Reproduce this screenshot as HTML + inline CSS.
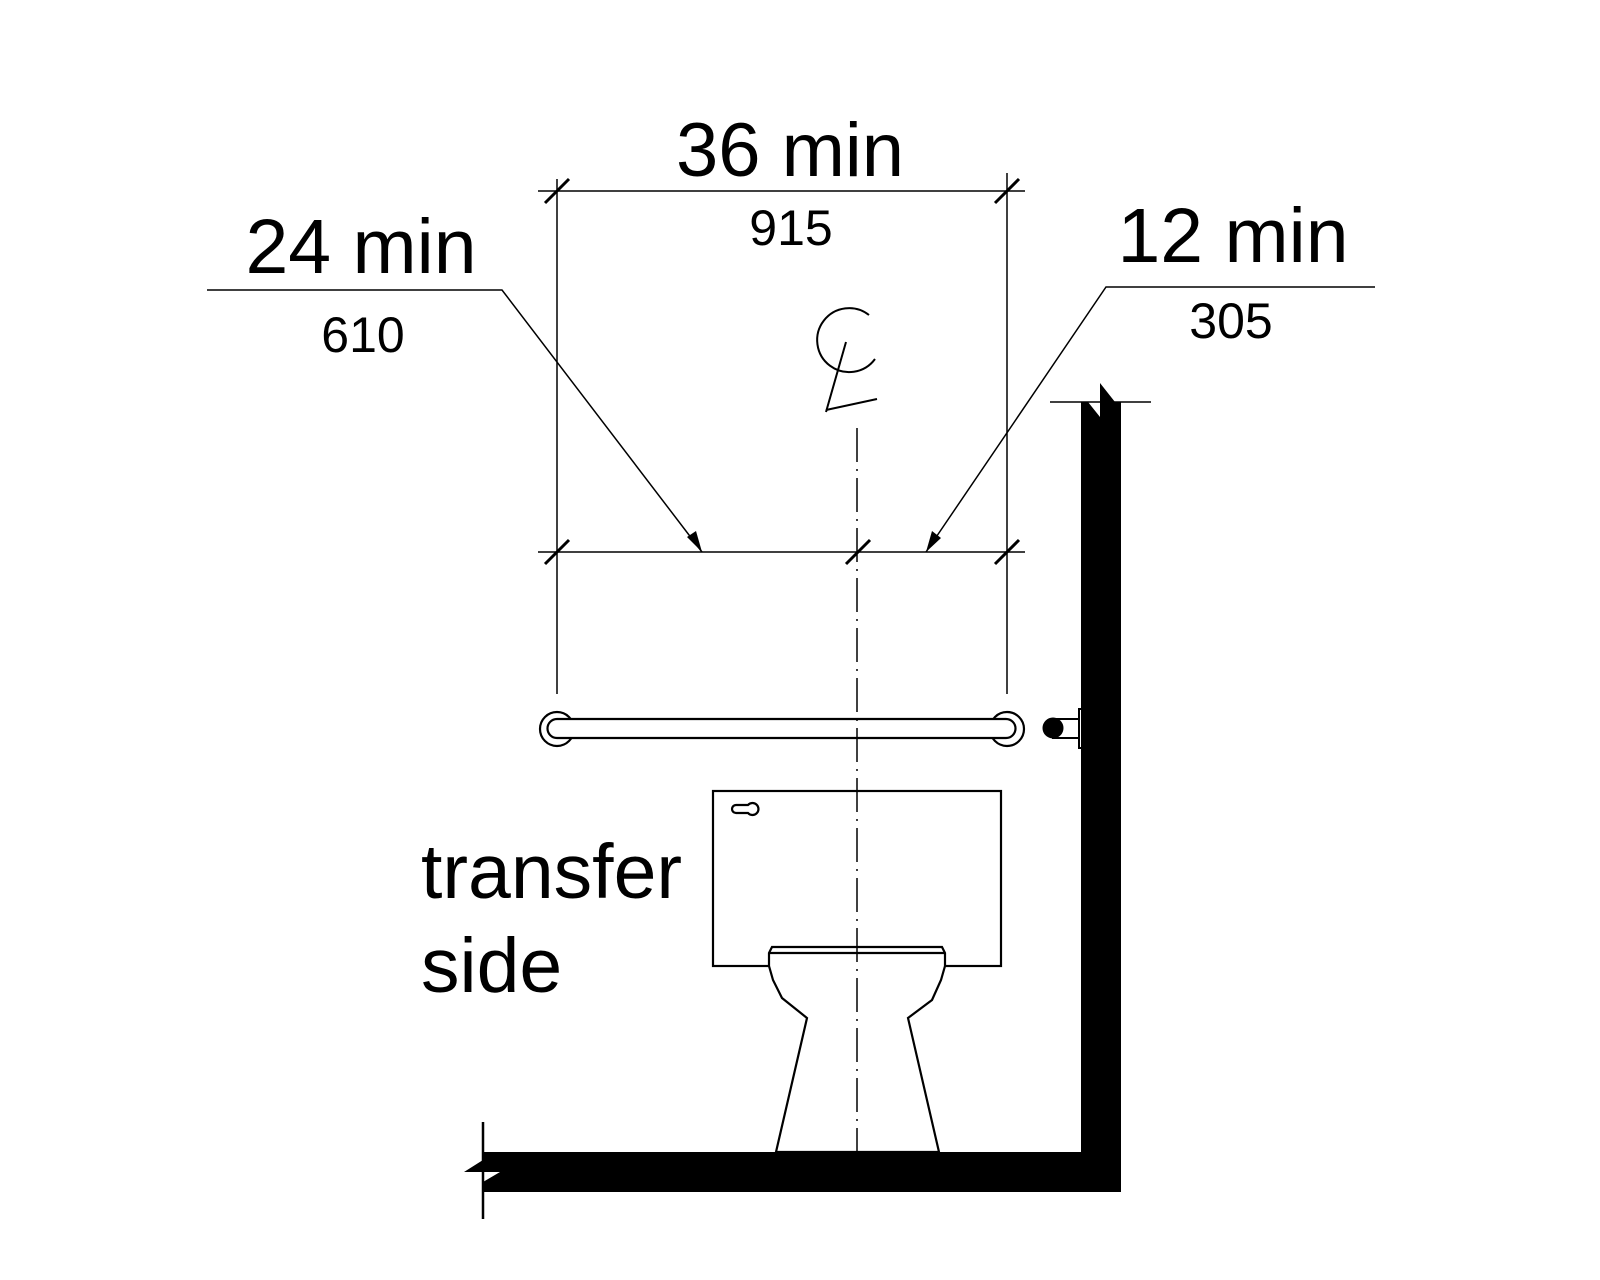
<!DOCTYPE html>
<html><head><meta charset="utf-8"><style>
html,body{margin:0;padding:0;background:#fff;}
svg{display:block;}
text{font-family:"Liberation Sans",Arial,sans-serif;fill:#000;}
</style></head><body>
<svg width="1600" height="1280" viewBox="0 0 1600 1280" xmlns="http://www.w3.org/2000/svg">
<rect width="1600" height="1280" fill="#fff"/>
<g stroke="#000" fill="none" stroke-width="1.5">
  <line x1="538" y1="191" x2="1025" y2="191"/>
  <line x1="557" y1="179" x2="557" y2="694"/>
  <line x1="1007" y1="173" x2="1007" y2="694"/>
  <line x1="538" y1="552" x2="1025" y2="552"/>
  <polyline points="207,290 502,290 702,552"/>
  <polyline points="1375,287 1106,287 926,552"/>
  <line x1="1050" y1="402" x2="1151" y2="402"/>
</g>
<g stroke="#000" stroke-width="3">
  <line x1="545" y1="203" x2="569" y2="179"/>
  <line x1="995" y1="203" x2="1019" y2="179"/>
  <line x1="545" y1="564" x2="569" y2="540"/>
  <line x1="846" y1="564" x2="870" y2="540"/>
  <line x1="995" y1="564" x2="1019" y2="540"/>
</g>
<polygon points="702,552 687,537 696,531" fill="#000"/>
<polygon points="926,552 932,531 941,538" fill="#000"/>
<g stroke="#000" stroke-width="2" fill="none">
  <path d="M869,315 A32,32 0 1 0 875,359"/>
  <line x1="846" y1="342" x2="826" y2="412"/>
  <line x1="826" y1="410" x2="877" y2="399"/>
</g>
<text x="790" y="176" font-size="76" text-anchor="middle">36 min</text>
<text x="791" y="245" font-size="50" text-anchor="middle">915</text>
<text x="361" y="273" font-size="77" text-anchor="middle">24 min</text>
<text x="363" y="352" font-size="50" text-anchor="middle">610</text>
<text x="1233" y="262" font-size="77" text-anchor="middle">12 min</text>
<text x="1231" y="338" font-size="50" text-anchor="middle">305</text>
<text x="421" y="898" font-size="77">transfer</text>
<text x="421" y="992" font-size="77">side</text>
<g stroke="#000" stroke-width="2.2" fill="none">
  <circle cx="557" cy="729" r="17"/>
  <circle cx="1007" cy="729" r="17"/>
  <path d="M1006,719 L557,719 A9.5,9.5 0 0 0 557,738 L1006,738 A9.5,9.5 0 0 0 1006,719 Z" fill="#fff"/>
</g>
<g stroke="#000" stroke-width="2">
  <rect x="1053" y="719" width="27" height="19" fill="#fff"/>
  <rect x="1079" y="709" width="4" height="39" fill="#fff"/>
  <circle cx="1053" cy="728" r="9.5" fill="#000"/>
</g>
<g stroke="#000" stroke-width="2.2" fill="none">
  <rect x="713" y="791" width="288" height="175" fill="#fff"/>
  <path d="M736,805 L748,805 A6,6 0 1 1 748,813 L736,813 A4,4 0 0 1 736,805 Z"/>
  <path d="M772,947 L942,947 L945,953 L945,966 L941,980 L932,1000 L908,1018 L939,1152 L776,1152 L807,1018 L782,998 L773,980 L769,966 L769,953 Z" fill="#fff"/>
  <line x1="769" y1="953" x2="945" y2="953"/>
</g>
<line x1="857" y1="428" x2="857" y2="1152" stroke="#000" stroke-width="1.5" stroke-dasharray="34 7 2 7"/>
<polygon fill="#000" points="1081,402 1088,402 1100,417 1100,383 1115,402 1121,402 1121,1192 483,1192 483,1182 500,1172 464,1172 483,1160 483,1152 1081,1152"/>
<line x1="483" y1="1122" x2="483" y2="1219" stroke="#000" stroke-width="2.5"/>
</svg>
</body></html>
